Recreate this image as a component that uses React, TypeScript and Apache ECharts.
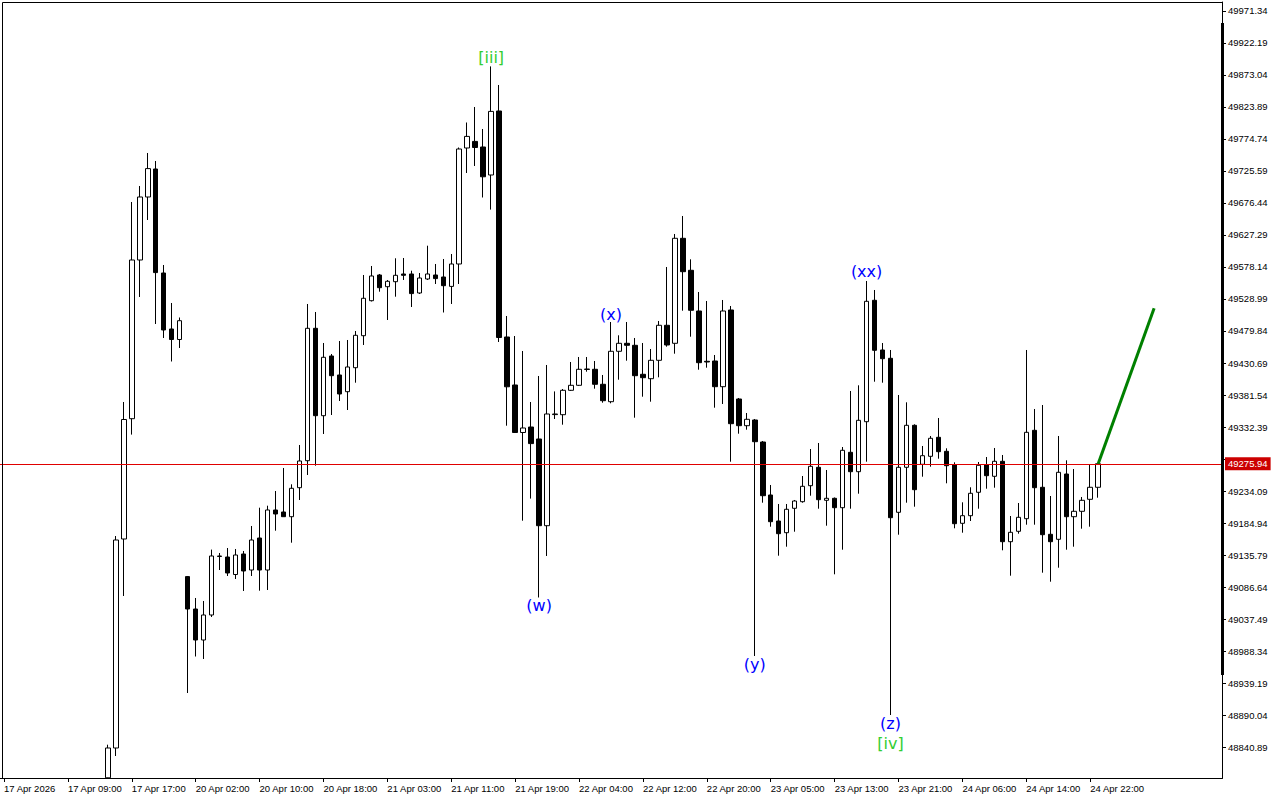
import React, { useEffect, useRef } from "react";
import * as echarts from "echarts";

// Slot count of the time axis (hourly bars, plus empty space on the right)
const SLOT_COUNT = 153;
const FIRST_VISIBLE_BAR = 13; // earlier bars are below the visible price range

const TICK_LABELS = [
  "17 Apr 2026", "17 Apr 09:00", "17 Apr 17:00", "20 Apr 02:00", "20 Apr 10:00",
  "20 Apr 18:00", "21 Apr 03:00", "21 Apr 11:00", "21 Apr 19:00", "22 Apr 04:00",
  "22 Apr 12:00", "22 Apr 20:00", "23 Apr 05:00", "23 Apr 13:00", "23 Apr 21:00",
  "24 Apr 06:00", "24 Apr 14:00", "24 Apr 22:00",
];

const Y_TICKS = [
  49971.34, 49922.19, 49873.04, 49823.89, 49774.74, 49725.59, 49676.44, 49627.29,
  49578.14, 49528.99, 49479.84, 49430.69, 49381.54, 49332.39, 49283.24, 49234.09,
  49184.94, 49135.79, 49086.64, 49037.49, 48988.34, 48939.19, 48890.04, 48840.89,
];
// the 49283.24 label is hidden behind the current-price box
const Y_LABELS = Y_TICKS.filter((v) => v !== 49283.24);
const Y_MIN = 48793.28;
const Y_MAX = 49985.16;

// OHLC from bar 13 to bar 137
const OPEN = [
  48793.6, 48839.36, 49160.37, 49345.14, 49588.90, 49685.66, 49728.67, 49568.93, 49482.92, 49466.79,
  49102.62, 49052.85, 49005.24, 49043.64, 49133.49, 49132.72, 49105.84, 49137.33, 49112.75, 49161.90,
  49112.75, 49204.91, 49201.84, 49194.62, 49239.16, 49280.63, 49483.99, 49349.75, 49441.45, 49412.26,
  49386.61, 49423.48, 49472.62, 49526.38, 49565.86, 49547.89, 49555.56, 49567.39, 49567.39, 49538.21,
  49559.71, 49565.86, 49562.78, 49548.35, 49582.75, 49760.92, 49771.06, 49762.46, 49719.45, 49817.75,
  49470.63, 49396.90, 49323.95, 49332.39, 49313.96, 49180.80, 49351.44, 49351.28, 49388.76, 49396.44,
  49420.71, 49421.02, 49397.98, 49371.25, 49448.67, 49460.95, 49457.88, 49413.34, 49406.58, 49434.84,
  49488.60, 49460.95, 49622.22, 49573.08, 49510.56, 49433.31, 49433.77, 49394.29, 49512.10, 49375.40,
  49334.39, 49343.15, 49309.35, 49227.95, 49188.01, 49170.05, 49207.52, 49217.66, 49242.23, 49270.49,
  49219.81, 49222.88, 49208.44, 49293.53, 49263.73, 49340.53, 49527.00, 49450.66, 49437.91, 49201.38,
  49270.49, 49335.00, 49275.10, 49287.39, 49316.57, 49295.07, 49274.03, 49184.48, 49196.15, 49232.10,
  49274.03, 49256.67, 49279.71, 49156.22, 49172.19, 49191.55, 49327.32, 49239.78, 49167.59, 49159.91,
  49260.20, 49194.62, 49202.91, 49221.34, 49239.78,
];
const HIGH = [
  48844.43, 49164.97, 49370.79, 49677.98, 49702.56, 49753.24, 49740.95, 49581.22, 49522.85, 49500.58,
  49103.54, 49069.75, 49065.14, 49144.09, 49138.87, 49146.54, 49145.01, 49141.94, 49180.34, 49208.44,
  49211.52, 49234.09, 49269.42, 49244.38, 49304.75, 49521.31, 49509.03, 49461.41, 49444.52, 49464.48,
  49466.02, 49479.84, 49565.86, 49579.68, 49567.39, 49558.18, 49591.51, 49591.97, 49572.46, 49568.93,
  49610.86, 49582.75, 49590.43, 49598.11, 49761.69, 49800.09, 49823.89, 49790.10, 49886.25, 49857.69,
  49502.88, 49472.16, 49449.13, 49370.79, 49410.73, 49427.62, 49387.07, 49390.76, 49432.23, 49439.91,
  49439.91, 49433.77, 49412.26, 49493.67, 49473.24, 49493.67, 49469.09, 49461.41, 49452.20, 49495.20,
  49578.14, 49628.83, 49656.48, 49589.97, 49539.75, 49525.92, 49442.98, 49527.46, 49518.24, 49376.94,
  49353.90, 49344.68, 49310.89, 49243.31, 49214.13, 49214.13, 49220.27, 49257.13, 49298.60, 49307.82,
  49266.35, 49224.11, 49301.67, 49387.69, 49396.44, 49556.64, 49542.82, 49461.41, 49450.66, 49381.54,
  49370.33, 49336.54, 49303.21, 49318.57, 49346.22, 49299.67, 49278.17, 49216.74, 49239.78, 49278.64,
  49286.30, 49300.14, 49289.39, 49195.69, 49215.66, 49450.66, 49360.04, 49366.18, 49226.41, 49318.57,
  49281.24, 49267.88, 49224.88, 49275.10, 49275.94,
];
const LOW = [
  48793.4, 48827.07, 49072.82, 49320.72, 49532.07, 49650.33, 49490.60, 49469.09, 49433.00, 49453.73,
  48923.83, 48979.89, 48976.06, 49040.57, 49112.75, 49103.54, 49098.93, 49080.50, 49103.54, 49080.96,
  49082.04, 49173.12, 49194.62, 49154.68, 49220.27, 49258.67, 49272.95, 49321.64, 49350.82, 49372.33,
  49358.50, 49400.44, 49458.34, 49525.15, 49540.21, 49496.74, 49532.53, 49558.18, 49516.71, 49536.67,
  49558.18, 49552.03, 49508.26, 49521.31, 49552.03, 49722.52, 49733.27, 49684.89, 49666.31, 49462.95,
  49334.39, 49323.18, 49188.48, 49222.42, 49070.52, 49134.26, 49344.68, 49335.92, 49387.69, 49395.37,
  49417.33, 49391.22, 49369.72, 49368.79, 49405.04, 49434.23, 49346.68, 49378.93, 49371.25, 49408.73,
  49455.73, 49444.98, 49511.02, 49471.09, 49420.40, 49423.48, 49362.04, 49367.72, 49279.09, 49322.10,
  49328.24, 48980.66, 49216.12, 49179.26, 49134.72, 49148.54, 49171.58, 49216.12, 49226.87, 49206.91,
  49180.80, 49106.15, 49143.93, 49206.91, 49229.95, 49279.09, 49401.97, 49400.44, 48890.04, 49166.97,
  49216.12, 49209.98, 49256.06, 49271.42, 49283.70, 49245.92, 49176.80, 49170.05, 49188.01, 49206.91,
  49237.62, 49239.16, 49143.01, 49104.00, 49168.51, 49182.33, 49182.33, 49108.61, 49094.78, 49116.29,
  49143.93, 49148.54, 49176.19, 49179.26, 49223.80,
];
const CLOSE = [
  48839.36, 49158.83, 49343.91, 49588.90, 49685.66, 49729.28, 49569.54, 49481.38, 49466.79, 49495.66,
  49052.85, 49005.24, 49043.64, 49134.26, 49134.26, 49108.15, 49135.79, 49111.22, 49158.83, 49112.75,
  49204.91, 49198.77, 49194.62, 49238.24, 49280.17, 49483.99, 49349.75, 49439.45, 49411.19, 49383.08,
  49424.55, 49473.24, 49530.07, 49564.32, 49546.35, 49556.18, 49565.39, 49565.39, 49537.29, 49561.24,
  49567.39, 49560.32, 49549.42, 49582.75, 49759.38, 49778.74, 49761.69, 49716.69, 49817.14, 49469.86,
  49394.14, 49323.95, 49330.86, 49306.90, 49180.80, 49352.36, 49352.36, 49388.76, 49396.44, 49421.02,
  49421.48, 49397.98, 49372.79, 49448.67, 49460.95, 49457.88, 49411.19, 49408.12, 49434.84, 49488.60,
  49458.34, 49622.22, 49570.92, 49511.64, 49431.16, 49432.23, 49394.29, 49510.56, 49337.46, 49334.39,
  49344.22, 49309.81, 49226.87, 49186.94, 49168.51, 49205.99, 49218.73, 49241.31, 49272.03, 49220.73,
  49222.88, 49208.44, 49296.60, 49263.73, 49342.68, 49525.46, 49450.20, 49437.30, 49193.08, 49270.49,
  49335.00, 49236.09, 49288.31, 49315.04, 49294.46, 49272.95, 49183.87, 49196.15, 49230.56, 49273.57,
  49257.59, 49279.71, 49156.22, 49170.66, 49193.70, 49324.25, 49239.16, 49166.97, 49156.22, 49262.81,
  49194.62, 49202.91, 49219.81, 49239.78, 49275.94,
];

const CURRENT_PRICE = 49275.94;

// Projection line (bar index, price)
const PROJ_BARS = [137, 144];
const PROJ_PRICES = [49275.94, 49514.71];

// Wave labels
const WAVE_TEXTS = ["[iii]", "(w)", "(x)", "(y)", "(xx)", "(z)", "[iv]"];
const WAVE_BARS = [61, 67, 76, 94, 108, 111, 111];
const WAVE_PRICES = [49899.15, 49058.99, 49505.95, 48968.37, 49570.46, 48877.75, 48847.03];
const WAVE_COLORS = ["#32cd32", "#0000ff", "#0000ff", "#0000ff", "#0000ff", "#0000ff", "#32cd32"];

const AXIS_FONT = "Liberation Sans";

export default function App() {
  const ref = useRef<HTMLDivElement>(null);

  useEffect(() => {
    if (!ref.current) return;
    const chart = echarts.init(ref.current, undefined, { renderer: "svg" });

    const categories = Array.from({ length: SLOT_COUNT }, (_, i) => String(i));
    const candles: any[] = [];
    for (let i = 0; i < FIRST_VISIBLE_BAR; i++) candles.push(["-", "-", "-", "-"]);
    for (let j = 0; j < OPEN.length; j++) {
      candles.push([OPEN[j], CLOSE[j], LOW[j], HIGH[j]]);
    }

    const tickShown = (index: number) =>
      index % 8 === 0 && index / 8 < TICK_LABELS.length;

    const option: any = {
      animation: false,
      backgroundColor: "#ffffff",
      grid: { left: -2, right: 58, top: 2, bottom: 22, containLabel: false },
      xAxis: {
        type: "category",
        data: categories,
        boundaryGap: true,
        axisLine: { show: true, lineStyle: { color: "#000", width: 1 } },
        axisTick: {
          show: true,
          alignWithLabel: true,
          length: 4,
          interval: (index: number) => tickShown(index),
          lineStyle: { color: "#000", width: 1 },
        },
        axisLabel: {
          show: true,
          interval: (index: number) => tickShown(index),
          formatter: (_v: string, index: number) =>
            tickShown(index) ? TICK_LABELS[index / 8] : "",
          align: "left",
          margin: 5,
          color: "#000",
          fontFamily: AXIS_FONT,
          fontSize: 9.5,
        },
        splitLine: { show: false },
      },
      yAxis: {
        type: "value",
        position: "right",
        min: Y_MIN,
        max: Y_MAX,
        scale: true,
        splitLine: { show: false },
        axisLine: { show: true, lineStyle: { color: "#000", width: 1 } },
        axisTick: {
          show: true,
          length: 4,
          customValues: Y_TICKS,
          lineStyle: { color: "#000", width: 1 },
        },
        axisLabel: {
          show: true,
          customValues: Y_LABELS,
          formatter: (v: number) => v.toFixed(2),
          margin: 6,
          color: "#000",
          fontFamily: AXIS_FONT,
          fontSize: 9.5,
        },
      },
      graphic: [
        {
          type: "rect",
          z: 100,
          silent: true,
          shape: { x: 2.5, y: 2.5, width: 1220, height: 776 },
          style: { fill: "none", stroke: "#000", lineWidth: 1 },
        },
        {
          type: "rect",
          z: 100,
          silent: true,
          shape: { x: 1221, y: 23, width: 3, height: 652 },
          style: { fill: "#000" },
        },
      ],
      series: [
        {
          type: "candlestick",
          data: candles,
          barWidth: 5,
          clip: true,
          itemStyle: {
            color: "#ffffff",
            color0: "#000000",
            borderColor: "#000000",
            borderColor0: "#000000",
            borderColorDoji: "#000000",
            borderWidth: 1,
          },
          markLine: {
            silent: true,
            symbol: ["none", "none"],
            lineStyle: { color: "#e00000", width: 1, type: "solid" },
            label: {
              show: true,
              position: "end",
              distance: 3,
              formatter: CURRENT_PRICE.toFixed(2),
              color: "#ffffff",
              backgroundColor: "#cc0000",
              padding: [2, 3, 1, 3],
              fontFamily: AXIS_FONT,
              fontSize: 9.5,
            },
            data: [{ yAxis: CURRENT_PRICE }],
          },
          z: 3,
        },
        {
          type: "line",
          data: PROJ_BARS.map((b, i) => [String(b), PROJ_PRICES[i]]),
          symbol: "none",
          lineStyle: { color: "#008000", width: 3 },
          z: 5,
        },
        {
          type: "scatter",
          symbol: "circle",
          symbolSize: 0,
          itemStyle: { color: "rgba(0,0,0,0)", opacity: 1 },
          data: WAVE_BARS.map((b, i) => ({
            value: [String(b), WAVE_PRICES[i]],
            label: { color: WAVE_COLORS[i] },
          })),
          label: {
            show: true,
            position: "inside",
            opacity: 1,
            fontFamily: "DejaVu Sans",
            fontSize: 16,
            formatter: (p: any) => WAVE_TEXTS[p.dataIndex],
          },
          labelLayout: { hideOverlap: false },
          z: 6,
        },
      ],
    };

    chart.setOption(option);
    return () => chart.dispose();
  }, []);

  return (
    <div
      ref={ref}
      style={{ position: "absolute", left: 0, top: 0, width: 1280, height: 800, background: "#fff" }}
    />
  );
}
